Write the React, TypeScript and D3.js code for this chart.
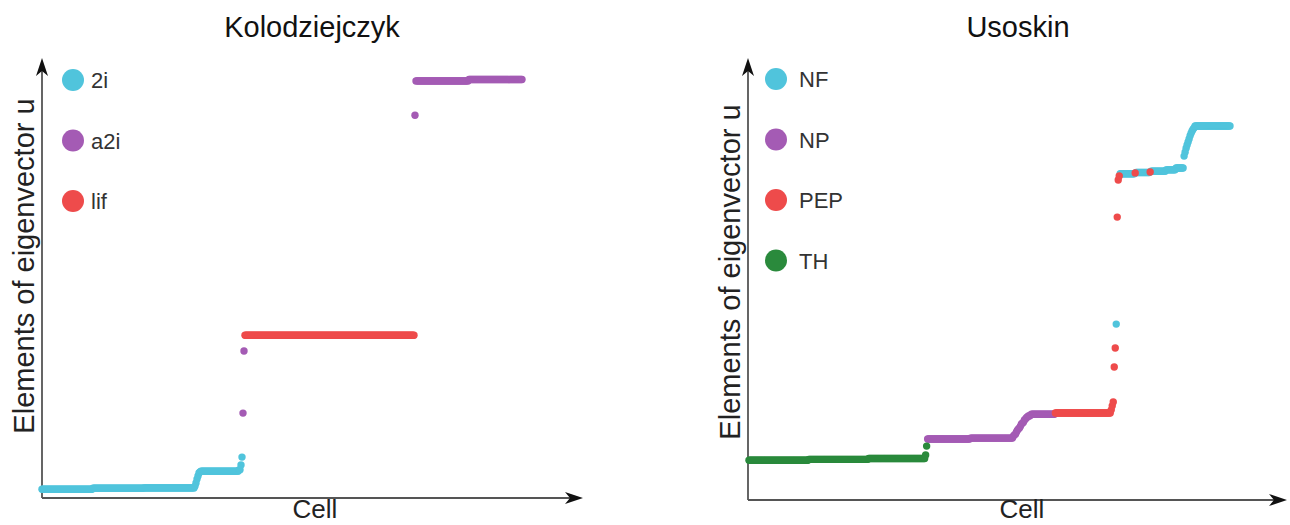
import React, { useEffect, useRef } from 'react';
import * as d3 from 'd3';

// Sorted eigenvector elements, run-length encoded: [group, number of cells, value]
const koloGroups = ['2i', 'a2i', 'lif'];
const koloColors = ['#50c4dc', '#a45bb4', '#ee4b4b'];
const koloRuns: [string, number, number][] = [
  ['2i', 51, 0.020], ['2i', 51, 0.022], ['2i', 51, 0.023],
  ['2i', 1, 0.027], ['2i', 1, 0.034], ['2i', 1, 0.043], ['2i', 1, 0.050], ['2i', 1, 0.057], ['2i', 1, 0.059],
  ['2i', 38, 0.061], ['2i', 2, 0.064], ['2i', 1, 0.075], ['2i', 1, 0.093],
  ['a2i', 1, 0.193], ['a2i', 1, 0.334],
  ['lif', 170, 0.370],
  ['a2i', 1, 0.870], ['a2i', 53, 0.948], ['a2i', 54, 0.951],
];
const koloDrawOrder = ['lif', 'a2i', '2i'];

const usoGroups = ['NF', 'NP', 'PEP', 'TH'];
const usoColors = ['#50c4dc', '#a45bb4', '#ee4b4b', '#2a8a3c'];
const usoRuns: [string, number, number][] = [
  ['TH', 60, 0.090], ['TH', 60, 0.092], ['TH', 57, 0.094], ['TH', 1, 0.102], ['TH', 1, 0.122],
  ['NP', 43, 0.138], ['NP', 43, 0.140],
  ['NP', 1, 0.145], ['NP', 1, 0.147], ['NP', 1, 0.149], ['NP', 1, 0.154], ['NP', 1, 0.158], ['NP', 1, 0.161],
  ['NP', 1, 0.163], ['NP', 1, 0.167], ['NP', 1, 0.172], ['NP', 1, 0.174], ['NP', 1, 0.176], ['NP', 1, 0.181],
  ['NP', 1, 0.183], ['NP', 1, 0.186], ['NP', 1, 0.188], ['NP', 1, 0.190], ['NP', 1, 0.190], ['NP', 1, 0.192],
  ['NP', 24, 0.194],
  ['PEP', 56, 0.197], ['PEP', 1, 0.204], ['PEP', 1, 0.213], ['PEP', 1, 0.222],
  ['PEP', 1, 0.301], ['PEP', 1, 0.344], ['NF', 1, 0.398], ['PEP', 1, 0.640],
  ['PEP', 1, 0.724], ['PEP', 1, 0.733],
  ['NF', 15, 0.738], ['PEP', 1, 0.740], ['NF', 14, 0.741], ['PEP', 1, 0.742],
  ['NF', 15, 0.744], ['NF', 10, 0.747], ['NF', 8, 0.751],
  ['NF', 1, 0.778], ['NF', 1, 0.787], ['NF', 1, 0.796], ['NF', 1, 0.803], ['NF', 1, 0.810], ['NF', 1, 0.817],
  ['NF', 1, 0.824], ['NF', 1, 0.830], ['NF', 1, 0.835], ['NF', 1, 0.839], ['NF', 1, 0.842],
  ['NF', 36, 0.846],
];
const usoDrawOrder = ['NF', 'NP', 'PEP', 'TH'];

const titles = ['Kolodziejczyk', 'Usoskin'];
const yLabel = 'Elements of eigenvector u';
const xLabel = 'Cell';

const FONT = '"Liberation Sans", Arial, Helvetica, sans-serif';

type Pt = { group: string, value: number, index: number };

const expand = (runs: [string, number, number][]): Pt[] => {
  const pts: Pt[] = [];
  runs.forEach(([group, count, value]) => {
    for (let k = 0; k < count; k++) pts.push({ group, value, index: pts.length });
  });
  return pts;
};

const panels = [
  {
    title: titles[0], groups: koloGroups, colors: koloColors, runs: koloRuns, order: koloDrawOrder,
    axisX: 42, axisY: 498, top: 58, arrowX: 583, cellStart: 42, cellEnd: 522,
    titleX: 312, cellLabelX: 315, yLabelX: 34, yLabelY: 266,
    legendX: 73, legendTextX: 91, legendY: 80,
  },
  {
    title: titles[1], groups: usoGroups, colors: usoColors, runs: usoRuns, order: usoDrawOrder,
    axisX: 748, axisY: 500, top: 58, arrowX: 1287, cellStart: 749, cellEnd: 1230,
    titleX: 1018, cellLabelX: 1022, yLabelX: 740, yLabelY: 272,
    legendX: 776, legendTextX: 799, legendY: 79,
  },
];

export default function App() {
  const ref = useRef<SVGSVGElement>(null);

  useEffect(() => {
    const svg = d3.select(ref.current);
    svg.selectAll('*').remove();

    panels.forEach(p => {
      const pts = expand(p.runs);
      const x = d3.scaleLinear().domain([0, pts.length - 1]).range([p.cellStart, p.cellEnd]);
      const y = d3.scaleLinear().domain([0, 1]).range([p.axisY, p.top]);
      const color = d3.scaleOrdinal<string, string>().domain(p.groups).range(p.colors);
      const g = svg.append('g');

      // axes with arrow heads
      g.append('line')
        .attr('x1', p.axisX).attr('y1', p.axisY)
        .attr('x2', p.axisX).attr('y2', p.top + 12)
        .attr('stroke', '#555').attr('stroke-width', 1.8);
      g.append('line')
        .attr('x1', p.axisX).attr('y1', p.axisY)
        .attr('x2', p.arrowX - 12).attr('y2', p.axisY)
        .attr('stroke', '#555').attr('stroke-width', 1.8);
      g.append('path')
        .attr('d', `M${p.axisX},${p.top} L${p.axisX - 6},${p.top + 18} L${p.axisX},${p.top + 13} L${p.axisX + 6},${p.top + 18} Z`)
        .attr('fill', '#111');
      g.append('path')
        .attr('d', `M${p.arrowX},${p.axisY} L${p.arrowX - 18},${p.axisY - 6} L${p.arrowX - 13},${p.axisY} L${p.arrowX - 18},${p.axisY + 6} Z`)
        .attr('fill', '#111');

      // points, drawn group by group
      p.order.forEach(grp => {
        g.append('g')
          .selectAll('circle')
          .data(pts.filter(d => d.group === grp))
          .join('circle')
          .attr('cx', d => x(d.index))
          .attr('cy', d => y(d.value))
          .attr('r', 3.7)
          .attr('fill', color(grp));
      });

      // legend
      const leg = g.append('g');
      p.groups.forEach((grp, i) => {
        const cy = p.legendY + i * 60.5;
        leg.append('circle').attr('cx', p.legendX).attr('cy', cy).attr('r', 11).attr('fill', color(grp));
        leg.append('text')
          .attr('x', p.legendTextX).attr('y', cy + 8)
          .attr('font-size', 22).attr('font-family', FONT).attr('fill', '#333')
          .text(grp);
      });

      // titles and labels
      g.append('text')
        .attr('x', p.titleX).attr('y', 37)
        .attr('text-anchor', 'middle')
        .attr('font-size', 29).attr('font-family', FONT).attr('fill', '#111')
        .text(p.title);
      g.append('text')
        .attr('x', p.cellLabelX).attr('y', 518)
        .attr('text-anchor', 'middle')
        .attr('font-size', 26).attr('font-family', FONT).attr('fill', '#222')
        .text(xLabel);
      g.append('text')
        .attr('transform', `translate(${p.yLabelX},${p.yLabelY}) rotate(-90)`)
        .attr('text-anchor', 'middle')
        .attr('font-size', 29).attr('font-family', FONT).attr('fill', '#222')
        .text(yLabel);
    });
  }, []);

  return (
    <svg ref={ref} width={1290} height={525}
      style={{ position: 'absolute', left: 0, top: 0, background: '#fff' }} />
  );
}
